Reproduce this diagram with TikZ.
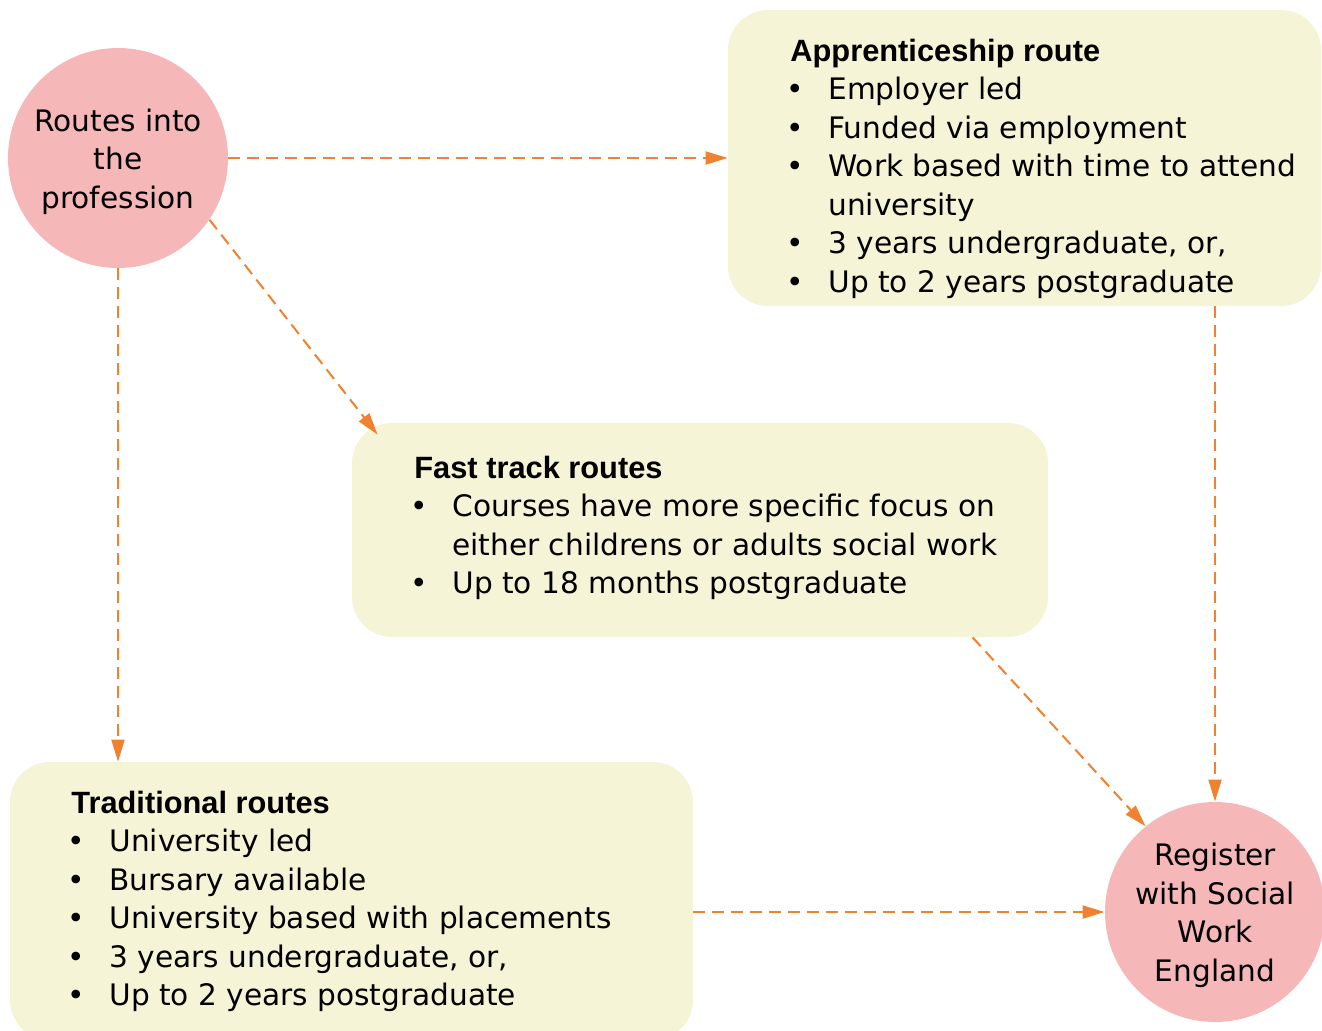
\documentclass[tikz,border=0pt]{standalone}
\usepackage{fontspec}
\setmainfont{DejaVu Sans}
\newfontfamily\titlefont{Liberation Sans}
\usetikzlibrary{arrows.meta,calc}
\definecolor{boxfill}{RGB}{245,244,214}
\definecolor{circfill}{RGB}{245,183,184}
\definecolor{arrowc}{RGB}{240,129,47}
\newcommand\ttl[1]{\multicolumn{2}{@{}l@{}}{\titlefont\bfseries\fontsize{15.4}{19.25}\selectfont #1}}
\newcommand\bul{\hspace{-2pt}\textbullet}
\newcommand\circtext[1]{\raisebox{0pt}[\dimexpr\height+4pt\relax][\depth]{\def\arraystretch{1}\begin{tabular}{@{}c@{}}#1\end{tabular}}}
\tikzset{
  circ/.style={circle, fill=circfill, minimum size=110pt, inner sep=-12pt, align=center,
    font=\fontsize{14.8}{19.25}\selectfont},
  routebox/.style={rectangle, rounded corners=20pt, fill=boxfill, inner sep=0pt},
  txt/.style={inner sep=0pt, anchor=base west, font=\fontsize{14.8}{19.25}\selectfont},
  conn/.style={draw=arrowc, line width=1pt, dash pattern=on 6pt off 3.5pt,
    -{Triangle[length=11pt,width=6.5pt]}},
}
\begin{document}
\begin{tikzpicture}[x=0.5pt,y=-0.5pt]
\useasboundingbox (0,0) rectangle (1322,1030);
\clip (0,0) rectangle (1322,1030);
% boxes
\node[routebox, minimum width=296.5pt, minimum height=148pt] (appr) at (1024.5,158) {};
\node[routebox, minimum width=348pt, minimum height=107pt] (fast) at (700,530) {};
\node[routebox, minimum width=341.5pt, minimum height=139pt] (trad) at (351.5,901) {};
% circles
\node[circ] (c1) at (118,158) {\circtext{Routes into\\the\\profession}};
\node[circ] (c2) at (1215,912) {\circtext{Register\\with Social\\Work\\England}};
% texts
\node[txt] (apprt) at (790,61) {\def\arraystretch{1}\begin{tabular}[t]{@{}p{19pt}@{}l@{}}
\ttl{Apprenticeship route}\\
\bul & Employer led\\
\bul & Funded via employment\\
\bul & Work based with time to attend\\
 & university\\
\bul & 3 years undergraduate, or,\\
\bul & Up to 2 years postgraduate
\end{tabular}};
\node[txt] (fastt) at (414,478) {\def\arraystretch{1}\begin{tabular}[t]{@{}p{19pt}@{}l@{}}
\ttl{Fast track routes}\\
\bul & Courses have more specific focus on\\
 & either childrens or adults social work\\
\bul & Up to 18 months postgraduate
\end{tabular}};
\node[txt] (tradt) at (71,813) {\def\arraystretch{1}\begin{tabular}[t]{@{}p{19pt}@{}l@{}}
\ttl{Traditional routes}\\
\bul & University led\\
\bul & Bursary available\\
\bul & University based with placements\\
\bul & 3 years undergraduate, or,\\
\bul & Up to 2 years postgraduate
\end{tabular}};
% connectors
\draw[conn] (c1.east) -- (appr.west |- c1.east);
\draw[conn] (c1.-34) -- ($(fast.north west)+(26,12)$);
\draw[conn] (c1.south) -- (c1.south |- trad.north);
\draw[conn] (appr.south -| c2.north) -- (c2.north);
\draw[conn] ($(fast.south west)+(621,0)$) -- (c2.129);
\draw[conn] (trad.east |- c2.west) -- (c2.west);
\end{tikzpicture}
\end{document}
